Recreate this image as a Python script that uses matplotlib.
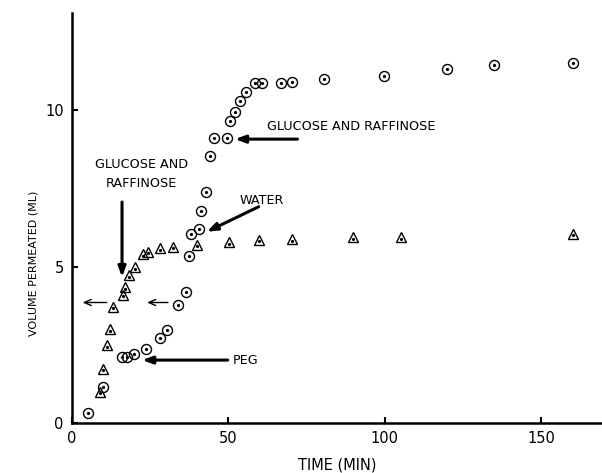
import matplotlib
matplotlib.use("Agg")
import matplotlib.pyplot as plt

FONT = ['Liberation Sans Narrow', 'DejaVu Sans']
plt.rcParams['font.family'] = FONT

# Circle series (time in min, volume permeated in mL)
circle_t = [5.0, 10.0, 15.9, 17.5, 19.8, 23.6, 28.1, 30.5, 33.9, 36.4, 37.4, 37.9,
            40.6, 41.4, 42.8, 44.1, 45.4, 49.6, 50.5, 52.0, 53.7, 55.8, 58.5, 60.9,
            67.0, 70.5, 80.5, 99.8, 119.8, 135.1, 160.2]
circle_v = [0.33, 1.15, 2.1, 2.12, 2.2, 2.35, 2.7, 2.98, 3.77, 4.2, 5.33, 6.05,
            6.2, 6.77, 7.38, 8.53, 9.11, 9.11, 9.65, 9.94, 10.28, 10.56, 10.85, 10.87,
            10.87, 10.9, 10.99, 11.1, 11.3, 11.44, 11.5]

# Triangle series
tri_t = [8.9, 10.0, 11.1, 12.1, 13.0, 16.4, 16.9, 18.2, 20.1, 22.7, 24.3, 28.2,
         32.3, 39.9, 50.3, 59.8, 70.2, 89.9, 105.3, 160.2]
tri_v = [1.0, 1.74, 2.49, 3.0, 3.72, 4.1, 4.33, 4.73, 4.97, 5.4, 5.47, 5.58,
         5.63, 5.7, 5.77, 5.85, 5.87, 5.93, 5.93, 6.05]

x_ticks = [0, 50, 100, 150]
y_ticks = [0, 5, 10]

fig = plt.figure(figsize=(6.02, 4.73), dpi=100)
ax = fig.add_axes([72/602, 50/473, 530/602, 410/473])
ax.set_xlim(0, 169.5)
ax.set_ylim(0, 13.1)

ax.plot(circle_t, circle_v, linestyle='none', marker='o', ms=7.2, mfc='none',
        mec='black', mew=1.0, clip_on=False)
ax.plot(circle_t, circle_v, linestyle='none', marker='o', ms=1.3, mfc='black',
        mec='black', clip_on=False)
ax.plot(tri_t, tri_v, linestyle='none', marker='^', ms=7.5, mfc='none',
        mec='black', mew=1.0, clip_on=False)
ax.plot(tri_t, [v - 0.05 for v in tri_v], linestyle='none', marker='o', ms=1.3,
        mfc='black', mec='black', clip_on=False)

for s in ['top', 'right']:
    ax.spines[s].set_visible(False)
for s in ['left', 'bottom']:
    ax.spines[s].set_linewidth(1.8)

ax.set_xticks(x_ticks)
ax.set_yticks(y_ticks)
ax.tick_params(direction='in', length=4, width=1.5, labelsize=10.5, pad=6)

ax.set_xlabel('TIME (MIN)', fontsize=10.5, labelpad=8)
ax.set_ylabel('VOLUME PERMEATED (ML)', fontsize=8)
ax.yaxis.set_label_coords(-0.063, 0.39)

txt = dict(fontsize=9.2, color='black')
ax.text(22.3, 7.96, 'GLUCOSE AND\nRAFFINOSE', ha='center', va='center',
        linespacing=1.55, **txt)
ax.text(62.3, 9.46, 'GLUCOSE AND RAFFINOSE', ha='left', va='center', **txt)
ax.text(60.7, 7.12, 'WATER', ha='center', va='center', **txt)
ax.text(51.4, 2.0, 'PEG', ha='left', va='center', **txt)

bold = dict(arrowstyle='-|>,head_length=0.6,head_width=0.22', color='black', lw=2.2,
            shrinkA=0, shrinkB=0)
thin = dict(arrowstyle='->,head_length=0.5,head_width=0.22', color='black', lw=1.0,
            shrinkA=0, shrinkB=0)
ax.annotate('', xy=(16.0, 4.66), xytext=(16.0, 7.06), arrowprops=bold)
ax.annotate('', xy=(52.1, 9.07), xytext=(72.1, 9.07), arrowprops=bold)
ax.annotate('', xy=(43.1, 6.11), xytext=(59.7, 6.91), arrowprops=bold)
ax.annotate('', xy=(22.4, 2.01), xytext=(49.8, 2.01), arrowprops=bold)
ax.annotate('', xy=(3.4, 3.85), xytext=(11.1, 3.85), arrowprops=thin)
ax.annotate('', xy=(24.0, 3.85), xytext=(30.7, 3.85), arrowprops=thin)

fig.savefig('out.png', dpi=100)
